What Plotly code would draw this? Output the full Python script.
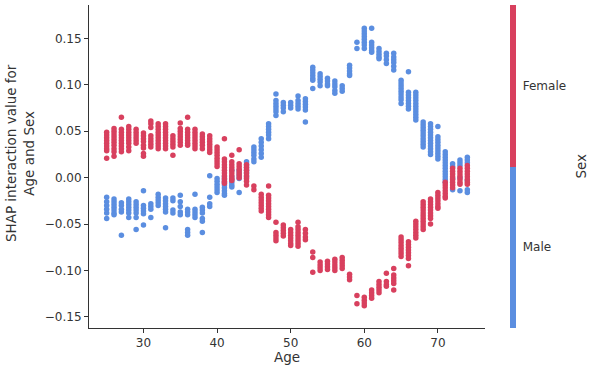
import plotly.graph_objects as go

# ---- data (Age -> SHAP interaction values) ----
ages = list(range(25, 75))

female_vals = [
    [0.049, 0.046, 0.043, 0.040, 0.037, 0.034, 0.031, 0.029, 0.021],          # 25
    [0.053, 0.050, 0.047, 0.044, 0.041, 0.038, 0.035, 0.031, 0.028, 0.023],   # 26
    [0.065, 0.052, 0.049, 0.046, 0.043, 0.040, 0.037, 0.034, 0.031, 0.028],   # 27
    [0.055, 0.052, 0.049, 0.046, 0.043, 0.040, 0.037, 0.033, 0.029],          # 28
    [0.052, 0.049, 0.046, 0.043, 0.040, 0.037],                               # 29
    [0.048, 0.045, 0.042, 0.039, 0.035, 0.032, 0.026, 0.023],                 # 30
    [0.061, 0.058, 0.054, 0.045, 0.042, 0.039, 0.036, 0.033],                 # 31
    [0.058, 0.055, 0.052, 0.049, 0.046, 0.043, 0.040, 0.037, 0.034, 0.031],   # 32
    [0.058, 0.055, 0.052, 0.049, 0.046, 0.043, 0.040, 0.037, 0.034, 0.031],   # 33
    [0.045, 0.042, 0.039, 0.036, 0.033, 0.024],                               # 34
    [0.059, 0.053, 0.050, 0.047, 0.044, 0.041, 0.038, 0.035],                 # 35
    [0.065, 0.052, 0.049, 0.046, 0.043, 0.040, 0.037, 0.035],                 # 36
    [0.052, 0.049, 0.046, 0.043, 0.040, 0.037, 0.034, 0.031],                 # 37
    [0.047, 0.044, 0.041, 0.038, 0.035, 0.031],                               # 38
    [0.045, 0.042, 0.039, 0.036, 0.033, 0.030, 0.027],                        # 39
    [0.033, 0.030, 0.027, 0.024, 0.021, 0.018, 0.015, 0.012],                 # 40
    [0.042, 0.020, 0.017, 0.014, 0.011, 0.008, 0.005, 0.002, -0.001, -0.004, -0.006],  # 41
    [0.024, 0.017, 0.014, 0.011, 0.008, 0.005, 0.002, -0.001, -0.003],        # 42
    [0.030, 0.015, 0.012, 0.009, 0.006, 0.003, 0.000],                        # 43
    [0.014, 0.011, 0.008, 0.005, 0.002, -0.001, -0.004, -0.008],              # 44
    [-0.009, -0.013],                                                         # 45
    [-0.018, -0.021, -0.024, -0.027, -0.030, -0.033, -0.036],                 # 46
    [-0.009, -0.019, -0.022, -0.025, -0.028, -0.031, -0.034, -0.037, -0.040, -0.043],  # 47
    [-0.048, -0.059, -0.062, -0.065, -0.068],                                 # 48
    [-0.051, -0.054, -0.057, -0.060, -0.063],                                 # 49
    [-0.056, -0.059, -0.062, -0.065, -0.068, -0.071, -0.073],                 # 50
    [-0.048, -0.053, -0.056, -0.059, -0.062, -0.065, -0.068, -0.071, -0.074], # 51
    [-0.056, -0.060, -0.064, -0.067],                                         # 52
    [-0.080, -0.086, -0.102],                                                 # 53
    [-0.091, -0.094, -0.097, -0.100],                                         # 54
    [-0.090, -0.093, -0.096, -0.099],                                         # 55
    [-0.088, -0.091, -0.094, -0.097, -0.100],                                 # 56
    [-0.086, -0.089, -0.092, -0.095, -0.098],                                 # 57
    [-0.104, -0.107, -0.110],                                                 # 58
    [-0.127, -0.136],                                                         # 59
    [-0.129, -0.132, -0.135, -0.138],                                         # 60
    [-0.121, -0.124, -0.127, -0.130],                                         # 61
    [-0.112, -0.115, -0.118, -0.121, -0.124],                                 # 62
    [-0.103, -0.112, -0.115, -0.117],                                         # 63
    [-0.098, -0.105, -0.108, -0.111, -0.114, -0.121],                         # 64
    [-0.064, -0.067, -0.070, -0.073, -0.076, -0.079, -0.082, -0.085],         # 65
    [-0.069, -0.072, -0.075, -0.078, -0.081, -0.084, -0.087, -0.095],         # 66
    [-0.047, -0.050, -0.053, -0.056, -0.059, -0.062, -0.065],                 # 67
    [-0.026, -0.029, -0.032, -0.035, -0.038, -0.041, -0.044, -0.047, -0.050, -0.053, -0.056],  # 68
    [-0.023, -0.026, -0.029, -0.032, -0.035, -0.038, -0.041, -0.044, -0.050], # 69
    [-0.016, -0.019, -0.022, -0.025, -0.028, -0.031, -0.033],                 # 70
    [-0.005, -0.008, -0.011, -0.014, -0.017, -0.020, -0.022],                 # 71
    [0.010, 0.007, 0.004, 0.001, -0.002, -0.005, -0.008, -0.011],             # 72
    [0.010, 0.007, 0.004, 0.001, -0.002, -0.005, -0.007],                     # 73
    [0.013, 0.010, 0.007, 0.004, 0.001, -0.002, -0.005, -0.007],              # 74
]

male_vals = [
    [-0.021, -0.026, -0.030, -0.034, -0.038, -0.044],                         # 25
    [-0.023, -0.026, -0.029, -0.032, -0.035, -0.038, -0.040],                 # 26
    [-0.027, -0.030, -0.034, -0.037, -0.062],                                 # 27
    [-0.023, -0.026, -0.029, -0.032, -0.035, -0.038, -0.043],                 # 28
    [-0.026, -0.029, -0.032, -0.035, -0.038, -0.043, -0.056],                 # 29
    [-0.014, -0.030, -0.033, -0.036, -0.039, -0.051],                         # 30
    [-0.028, -0.031, -0.034, -0.043],                                         # 31
    [-0.018, -0.021, -0.024, -0.027, -0.030],                                 # 32
    [-0.022, -0.025, -0.028, -0.031, -0.034, -0.037, -0.054],                 # 33
    [-0.022, -0.025, -0.035, -0.038],                                         # 34
    [-0.019, -0.026, -0.031, -0.037, -0.040],                                 # 35
    [-0.034, -0.037, -0.040, -0.056, -0.059, -0.062],                         # 36
    [-0.018, -0.034, -0.037, -0.040, -0.043],                                 # 37
    [-0.032, -0.035, -0.038, -0.044, -0.047, -0.059],                         # 38
    [0.002, -0.021, -0.028, -0.031],                                          # 39
    [-0.001, -0.004, -0.007, -0.010, -0.013, -0.016],                         # 40
    [0.001, -0.002, -0.005, -0.008, -0.011, -0.014, -0.017, -0.019],          # 41
    [0.008, 0.001, -0.002, -0.005, -0.008, -0.010],                           # 42
    [0.008, 0.005, 0.002, -0.001, -0.016],                                    # 43
    [0.017, 0.014, 0.011, 0.008, 0.005, 0.001],                               # 44
    [0.033, 0.030, 0.027, 0.024, 0.020, 0.017],                               # 45
    [0.042, 0.038, 0.034, 0.030, 0.026, 0.022],                               # 46
    [0.058, 0.055, 0.052, 0.049, 0.046, 0.042],                               # 47
    [0.090, 0.083, 0.080, 0.077, 0.074, 0.071, 0.067],                        # 48
    [0.081, 0.078, 0.075, 0.071],                                             # 49
    [0.081, 0.078, 0.075],                                                    # 50
    [0.088, 0.083, 0.080, 0.077, 0.074],                                      # 51
    [0.085, 0.082, 0.079, 0.076, 0.073, 0.060],                               # 52
    [0.119, 0.116, 0.113, 0.110, 0.107, 0.105, 0.096],                        # 53
    [0.112, 0.109, 0.106, 0.103, 0.099],                                      # 54
    [0.107, 0.104, 0.101, 0.099],                                             # 55
    [0.104, 0.101, 0.098, 0.094, 0.091],                                      # 56
    [0.099, 0.096, 0.093],                                                    # 57
    [0.121, 0.118, 0.115, 0.112, 0.110],                                      # 58
    [0.146, 0.139],                                                           # 59
    [0.161, 0.158, 0.155, 0.152, 0.149, 0.146, 0.143, 0.139],                 # 60
    [0.161, 0.146, 0.143, 0.140, 0.137, 0.135],                               # 61
    [0.139, 0.136, 0.133, 0.130, 0.128],                                      # 62
    [0.134, 0.131, 0.127, 0.123],                                             # 63
    [0.134, 0.130, 0.127, 0.124, 0.120, 0.116],                               # 64
    [0.105, 0.102, 0.099, 0.096, 0.093, 0.090, 0.087, 0.084, 0.080],          # 65
    [0.114, 0.092, 0.089, 0.086, 0.083, 0.080, 0.077, 0.074],                 # 66
    [0.092, 0.089, 0.086, 0.083, 0.080, 0.077, 0.074, 0.071, 0.068, 0.065, 0.062],  # 67
    [0.060, 0.057, 0.054, 0.051, 0.048, 0.045, 0.042, 0.039, 0.036, 0.033],   # 68
    [0.058, 0.055, 0.052, 0.049, 0.046, 0.043, 0.040, 0.037, 0.034, 0.031, 0.028, 0.025],  # 69
    [0.055, 0.044, 0.041, 0.038, 0.035, 0.032, 0.029, 0.026, 0.023, 0.020],   # 70
    [0.028, 0.025, 0.022, 0.019, 0.016, 0.013, 0.010, 0.007, 0.004, 0.001, -0.002, -0.005],  # 71
    [0.015, 0.012, -0.001, -0.013],                                           # 72
    [0.019, 0.016, 0.013, 0.000, -0.014],                                     # 73
    [0.022, 0.019, 0.016, -0.003, -0.013, -0.016],                            # 74
]

sex_labels = ["Male", "Female"]
x_ticks = [30, 40, 50, 60, 70]
y_ticks = [-0.15, -0.10, -0.05, 0.00, 0.05, 0.10, 0.15]

BLUE = "#5b8ee0"
RED = "#d8405e"
TXT = "#333333"


def flatten(vals):
    xs, ys = [], []
    for a, vs in zip(ages, vals):
        for v in vs:
            xs.append(a)
            ys.append(v)
    return xs, ys


mx, my = flatten(male_vals)
fx, fy = flatten(female_vals)

fig = go.Figure()
fig.add_trace(go.Scatter(
    x=mx, y=my, mode="markers", name="Male",
    marker=dict(size=5.5, color=[0] * len(mx), coloraxis="coloraxis", line=dict(width=0)),
    showlegend=False,
))
fig.add_trace(go.Scatter(
    x=fx, y=fy, mode="markers", name="Female",
    marker=dict(size=5.5, color=[1] * len(fx), coloraxis="coloraxis", line=dict(width=0)),
    showlegend=False,
))

fig.update_layout(
    width=596, height=377,
    margin=dict(l=89, r=111, t=5, b=49),
    paper_bgcolor="white", plot_bgcolor="white",
    font=dict(family="DejaVu Sans", size=12, color=TXT),
    coloraxis=dict(
        cmin=0, cmax=1,
        colorscale=[[0, BLUE], [0.5, BLUE], [0.5, RED], [1, RED]],
        colorbar=dict(
            thickness=6, len=1, lenmode="fraction",
            x=1.063, xanchor="left", xpad=0,
            y=0.5, yanchor="middle", ypad=0,
            outlinewidth=0,
            tickvals=[0.25, 0.75], ticktext=[" " + s for s in sex_labels],
            ticks="", ticklabelposition="outside",
            tickfont=dict(size=12, color=TXT, family="DejaVu Sans"),
        ),
    ),
    xaxis=dict(
        range=[22.6, 76.4], tickvals=x_ticks,
        showline=True, linecolor=TXT, linewidth=1,
        ticks="outside", ticklen=4, tickcolor=TXT,
        showgrid=False, zeroline=False,
        tickfont=dict(size=12, color=TXT),
    ),
    yaxis=dict(
        range=[-0.162, 0.186], tickvals=y_ticks, tickformat=".2f",
        showline=True, linecolor=TXT, linewidth=1,
        ticks="outside", ticklen=4, tickcolor=TXT,
        showgrid=False, zeroline=False,
        tickfont=dict(size=12, color=TXT),
    ),
    annotations=[
        dict(text="Age", xref="paper", yref="paper", x=0.5, y=-0.09,
             xanchor="center", yanchor="middle", showarrow=False,
             font=dict(size=13.5, color=TXT)),
        dict(text="SHAP interaction value for<br>Age and Sex", xref="paper", yref="paper",
             x=-0.174, y=0.542, xanchor="center", yanchor="middle", textangle=-90,
             showarrow=False, font=dict(size=13.5, color=TXT)),
        dict(text="Sex", xref="paper", yref="paper", x=1.24, y=0.5,
             xanchor="center", yanchor="middle", textangle=-90,
             showarrow=False, font=dict(size=13.5, color=TXT)),
    ],
)

fig.write_html("out.html", config={"displayModeBar": False},
               post_script="document.body.style.margin='0';")
